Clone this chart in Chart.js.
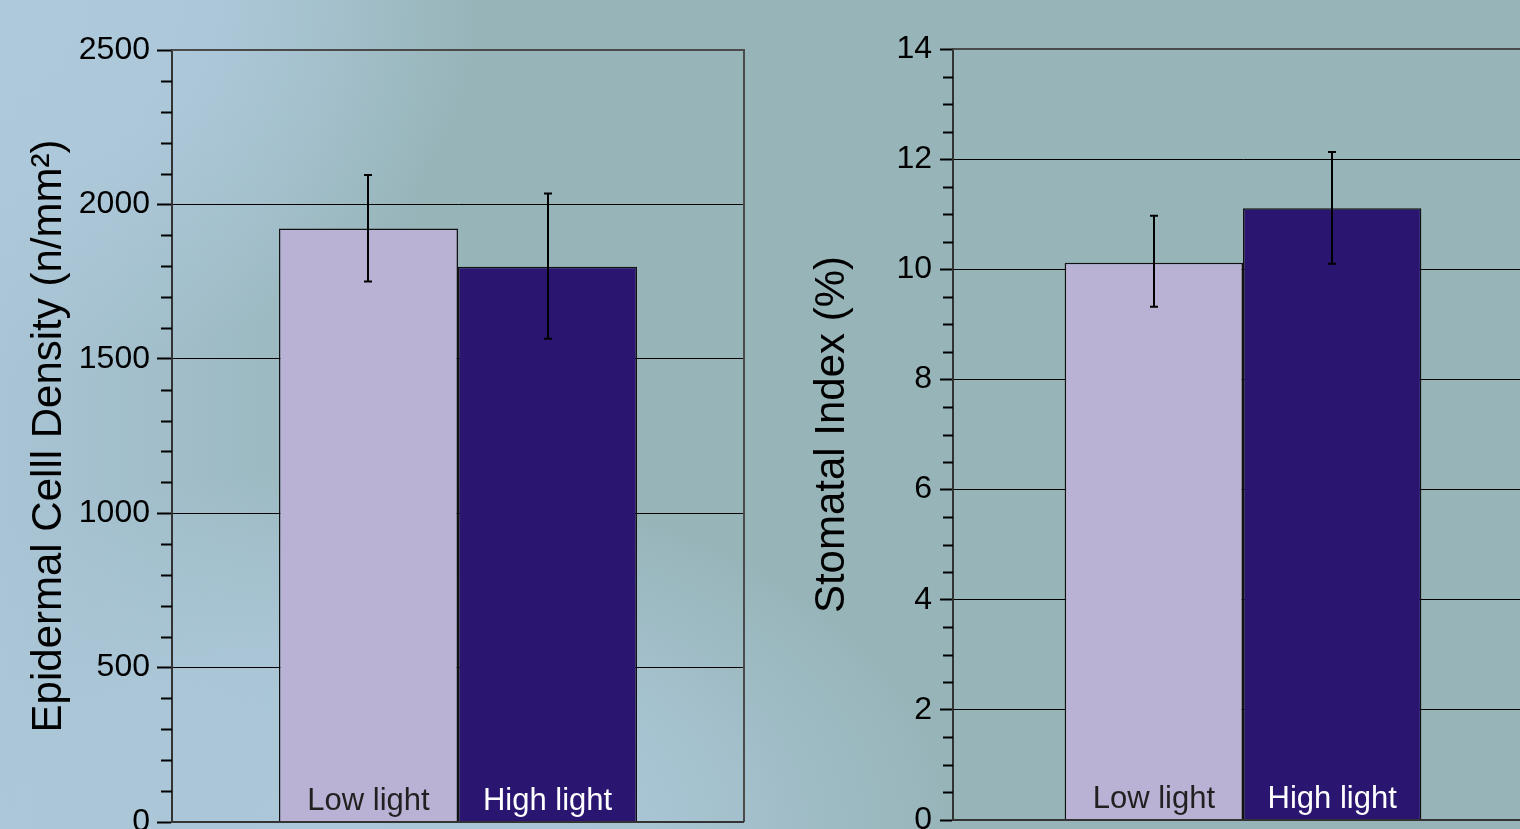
<!DOCTYPE html>
<html>
<head>
<meta charset="utf-8">
<script src="https://cdn.jsdelivr.net/npm/chart.js@4.4.1/dist/chart.umd.min.js"></script>
<style>
  html, body { margin:0; padding:0; width:1520px; height:829px; overflow:hidden; }
  body {
    background:
      radial-gradient(ellipse 480px 380px at 0px 0px, rgba(174,201,219,1) 0%, rgba(174,201,219,0.85) 45%, rgba(174,201,219,0) 100%),
      radial-gradient(ellipse 620px 360px at 330px 829px, rgba(171,199,216,1) 0%, rgba(171,199,216,0.9) 50%, rgba(171,199,216,0) 100%),
      linear-gradient(to right, #a9c4d5 0%, #a0bdc8 12%, #97b5b9 28%, #97b5b9 100%);
    position:relative;
  }
  canvas { position:absolute; top:0; }
  #c1 { left:0px; }
  #c2 { left:770px; }
</style>
</head>
<body>
<canvas id="c1" width="760" height="829"></canvas>
<canvas id="c2" width="770" height="829"></canvas>
<script>
// ---- data ----
const categories = ['Low light', 'High light'];
const barColors = ['#b9b2d4', '#2a1670'];
const labelColors = ['#231f20', '#ffffff'];

const densityValues = [1922, 1798];
const densityErrLow = [1750, 1565];
const densityErrHigh = [2095, 2035];
const densityTicks = [0, 500, 1000, 1500, 2000, 2500];

const indexValues = [10.12, 11.11];
const indexErrLow = [9.32, 10.10];
const indexErrHigh = [10.97, 12.13];
const indexTicks = [0, 2, 4, 6, 8, 10, 12, 14];

const FONT = "'Liberation Sans', Arial, sans-serif";

function makeChart(canvasId, cfg) {
  const plugin = {
    id: 'extras_' + canvasId,
    beforeDatasetsDraw(chart) {
      const ctx = chart.ctx, a = chart.chartArea, y = chart.scales.y;
      // minor ticks
      ctx.save();
      ctx.strokeStyle = '#000';
      ctx.lineWidth = 2;
      for (let v = y.min; v <= y.max + 1e-9; v += cfg.minorStep) {
        const isMajor = Math.abs(v / cfg.majorStep - Math.round(v / cfg.majorStep)) < 1e-6;
        if (isMajor) continue;
        const py = Math.round(y.getPixelForValue(v)) + 0.5;
        ctx.beginPath();
        ctx.moveTo(a.left - cfg.minorLen, py);
        ctx.lineTo(a.left, py);
        ctx.stroke();
      }
      ctx.restore();
    },
    afterDatasetsDraw(chart) {
      const ctx = chart.ctx, a = chart.chartArea, y = chart.scales.y;
      // frame top/right
      ctx.save();
      ctx.strokeStyle = '#4a4a4a';
      ctx.lineWidth = 2;
      ctx.beginPath();
      ctx.moveTo(a.left, a.top);
      ctx.lineTo(a.right, a.top);
      ctx.lineTo(a.right, a.bottom);
      ctx.stroke();
      // bottom line
      ctx.strokeStyle = '#333';
      ctx.beginPath();
      ctx.moveTo(a.left, a.bottom);
      ctx.lineTo(a.right, a.bottom);
      ctx.stroke();
      // labels inside bars
      ctx.font = '31px ' + FONT;
      ctx.textAlign = 'center';
      ctx.textBaseline = 'alphabetic';
      categories.forEach((c, i) => {
        const bar = chart.getDatasetMeta(i).data[0];
        ctx.fillStyle = labelColors[i];
        ctx.fillText(c, bar.x, a.bottom - 12);
      });
      // error bars
      ctx.strokeStyle = '#000';
      ctx.lineWidth = 2;
      categories.forEach((c, i) => {
        const bar = chart.getDatasetMeta(i).data[0];
        const x = Math.round(bar.x);
        const yl = y.getPixelForValue(cfg.errLow[i]);
        const yh = y.getPixelForValue(cfg.errHigh[i]);
        ctx.beginPath();
        ctx.moveTo(x, yl); ctx.lineTo(x, yh);
        ctx.moveTo(x - 4, yl); ctx.lineTo(x + 4, yl);
        ctx.moveTo(x - 4, yh); ctx.lineTo(x + 4, yh);
        ctx.stroke();
      });
      ctx.restore();
    }
  };

  return new Chart(document.getElementById(canvasId), {
    type: 'bar',
    data: {
      labels: [''],
      datasets: categories.map((c, i) => ({
        label: c,
        data: [cfg.values[i]],
        backgroundColor: barColors[i],
        borderColor: '#111',
        borderWidth: 1.5,
        borderSkipped: 'bottom',
        categoryPercentage: cfg.catPct,
        barPercentage: 1.0
      }))
    },
    options: {
      responsive: false,
      animation: false,
      devicePixelRatio: 1,
      layout: { padding: cfg.padding },
      plugins: { legend: { display: false }, tooltip: { enabled: false } },
      scales: {
        x: { display: false },
        y: {
          min: cfg.ticks[0],
          max: cfg.ticks[cfg.ticks.length - 1],
          afterBuildTicks: s => { s.ticks = cfg.ticks.map(v => ({ value: v })); },
          afterFit: s => {
            s.width = cfg.axisWidth;
            s.paddingTop = 0; s.paddingBottom = 0;
          },
          ticks: {
            color: '#000',
            font: { family: FONT, size: 32 },
            padding: cfg.tickPad,
            callback: v => String(v)
          },
          grid: {
            color: '#000',
            lineWidth: 1,
            tickLength: cfg.majorLen,
            tickColor: '#000',
            tickWidth: 2
          },
          border: { display: true, color: '#333', width: 2 },
          title: {
            display: true,
            text: cfg.title,
            color: '#000',
            font: { family: FONT, size: cfg.titleSize },
            padding: { top: cfg.titlePad, bottom: 0 }
          }
        }
      }
    },
    plugins: [plugin]
  });
}

makeChart('c1', {
  values: densityValues, errLow: densityErrLow, errHigh: densityErrHigh,
  ticks: densityTicks, majorStep: 500, minorStep: 100,
  title: 'Epidermal Celll Density (n/mm²)', titleSize: 42, titlePad: 24,
  axisWidth: 172, majorLen: 15, minorLen: 11, tickPad: 7,
  padding: { left: 0, top: 50, right: 16, bottom: 7 },
  catPct: 0.626
});

makeChart('c2', {
  values: indexValues, errLow: indexErrLow, errHigh: indexErrHigh,
  ticks: indexTicks, majorStep: 2, minorStep: 0.5,
  title: 'Stomatal Index (%)', titleSize: 42, titlePad: 37,
  axisWidth: 183, majorLen: 13, minorLen: 10, tickPad: 8,
  padding: { left: 0, top: 49, right: 7, bottom: 9 },
  catPct: 0.615
});
</script>
</body>
</html>
